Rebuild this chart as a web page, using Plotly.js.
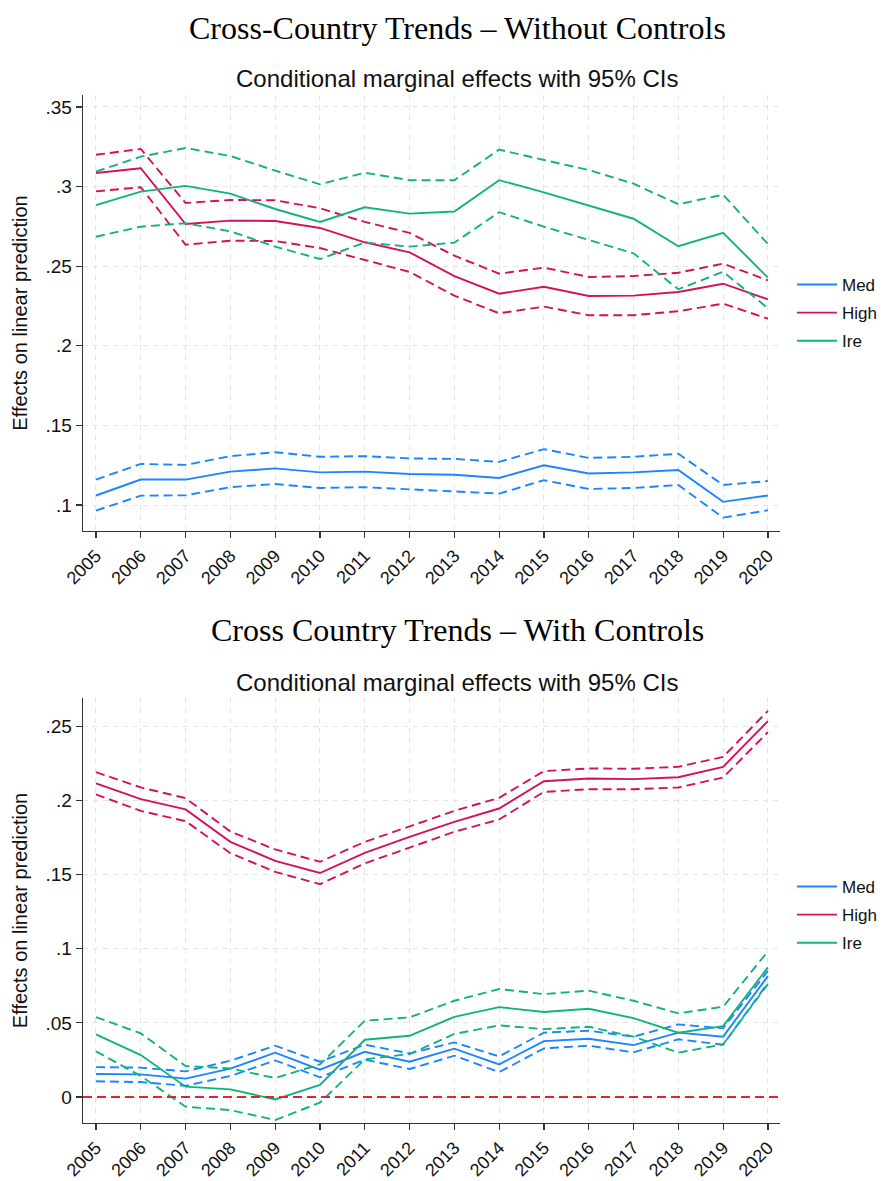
<!DOCTYPE html>
<html>
<head>
<meta charset="utf-8">
<script src="https://cdn.plot.ly/plotly-3.0.1.min.js"></script>
<style>
  html, body { margin: 0; padding: 0; background: #fff; }
  #chart { width: 893px; height: 1181px; }
</style>
</head>
<body>
<div id="chart"></div>
<script>
// Survey years on the horizontal axis
const years = [2005, 2006, 2007, 2008, 2009, 2010, 2011, 2012, 2013, 2014, 2015, 2016, 2017, 2018, 2019, 2020];

// Panel 1: without controls (point estimate, upper and lower 95% bounds)
const medTop   = [0.106, 0.116, 0.116, 0.121, 0.123, 0.1205, 0.121, 0.1195, 0.119, 0.117, 0.125, 0.1198, 0.1205, 0.122, 0.102, 0.106];
const medTopHi = [0.116, 0.1258, 0.1252, 0.1307, 0.1332, 0.1303, 0.1307, 0.1293, 0.129, 0.1271, 0.1351, 0.1296, 0.1303, 0.1322, 0.1126, 0.1151];
const medTopLo = [0.0965, 0.1059, 0.1061, 0.1112, 0.1132, 0.1107, 0.1112, 0.1099, 0.1086, 0.1072, 0.1156, 0.1101, 0.1107, 0.1126, 0.0921, 0.0967];

const highTop   = [0.3085, 0.3115, 0.2765, 0.2786, 0.2784, 0.274, 0.265, 0.2587, 0.2438, 0.2327, 0.2371, 0.2313, 0.2315, 0.2338, 0.239, 0.2292];
const highTopHi = [0.32, 0.3236, 0.2897, 0.2916, 0.2914, 0.2864, 0.2778, 0.2709, 0.2566, 0.2453, 0.2491, 0.2432, 0.2438, 0.2459, 0.2516, 0.2411];
const highTopLo = [0.297, 0.2996, 0.2635, 0.266, 0.2658, 0.2614, 0.2539, 0.2464, 0.2315, 0.2204, 0.2246, 0.2192, 0.2192, 0.2217, 0.2265, 0.217];

const ireTop   = [0.2884, 0.2968, 0.3004, 0.2956, 0.2859, 0.2778, 0.287, 0.283, 0.2843, 0.304, 0.2964, 0.2882, 0.2798, 0.2625, 0.271, 0.2428];
const ireTopHi = [0.3094, 0.3188, 0.3242, 0.3192, 0.31, 0.3014, 0.3087, 0.304, 0.304, 0.3232, 0.3167, 0.3104, 0.3018, 0.2889, 0.2949, 0.2639];
const ireTopLo = [0.2685, 0.2748, 0.277, 0.2719, 0.2623, 0.2545, 0.2648, 0.2623, 0.2648, 0.2839, 0.2748, 0.2665, 0.2581, 0.2355, 0.2465, 0.2236];

// Panel 2: with controls
const medBot   = [0.0155, 0.0153, 0.0124, 0.0191, 0.0299, 0.0184, 0.0305, 0.0238, 0.0326, 0.022, 0.0377, 0.0393, 0.035, 0.0434, 0.0407, 0.0815];
const medBotHi = [0.0202, 0.0198, 0.0173, 0.0245, 0.0346, 0.0238, 0.0353, 0.0294, 0.0368, 0.0274, 0.0434, 0.0447, 0.0407, 0.049, 0.0463, 0.085];
const medBotLo = [0.0106, 0.0101, 0.0076, 0.0142, 0.0247, 0.0133, 0.0252, 0.0189, 0.0279, 0.0168, 0.0328, 0.0346, 0.0301, 0.0389, 0.0353, 0.077];

const highBot   = [0.2114, 0.2008, 0.1939, 0.172, 0.1592, 0.151, 0.1646, 0.1754, 0.1855, 0.1945, 0.2129, 0.2147, 0.2143, 0.2156, 0.2226, 0.2534];
const highBotHi = [0.219, 0.2087, 0.2015, 0.179, 0.1669, 0.1586, 0.172, 0.1822, 0.1929, 0.2017, 0.2197, 0.2215, 0.2213, 0.2226, 0.2293, 0.2603];
const highBotLo = [0.204, 0.1929, 0.186, 0.1644, 0.1518, 0.1435, 0.1575, 0.1682, 0.1788, 0.1871, 0.2057, 0.2075, 0.2075, 0.2087, 0.2154, 0.246];

const ireBot   = [0.0422, 0.0283, 0.007, 0.0052, -0.0016, 0.0081, 0.0386, 0.0413, 0.0541, 0.0606, 0.0573, 0.0595, 0.0532, 0.0434, 0.0478, 0.0874];
const ireBotHi = [0.0539, 0.0429, 0.0209, 0.0193, 0.0128, 0.022, 0.0514, 0.0537, 0.0649, 0.0728, 0.0694, 0.0717, 0.0649, 0.0564, 0.0609, 0.0982];
const ireBotLo = [0.0308, 0.0142, -0.0065, -0.0088, -0.0155, -0.0038, 0.0254, 0.029, 0.0425, 0.0483, 0.0458, 0.0474, 0.0407, 0.0299, 0.0355, 0.0761];

// Tick labels
const yTopVals = [0.1, 0.15, 0.2, 0.25, 0.3, 0.35];
const yTopText = ['.1', '.15', '.2', '.25', '.3', '.35'];
const yBotVals = [0, 0.05, 0.1, 0.15, 0.2, 0.25];
const yBotText = ['0', '.05', '.1', '.15', '.2', '.25'];

const groupNames = ['Med', 'High', 'Ire'];
const groupColors = ['#1a85ff', '#d41159', '#12b27f'];

const CI_DASH = '9px,5px';
const FONT = 'Arial, "Liberation Sans", sans-serif';
const SERIF = '"Liberation Serif", "Times New Roman", serif';

function groupTraces(est, hi, lo, idx, xa, ya, legendName) {
  const c = groupColors[idx];
  const base = { x: years, mode: 'lines', xaxis: xa, yaxis: ya, hoverinfo: 'skip' };
  return [
    Object.assign({}, base, { y: hi, line: { color: c, width: 1.9, dash: CI_DASH }, showlegend: false }),
    Object.assign({}, base, { y: lo, line: { color: c, width: 1.9, dash: CI_DASH }, showlegend: false }),
    Object.assign({}, base, { y: est, name: groupNames[idx], line: { color: c, width: 1.9 },
      legend: legendName, legendgroup: legendName + groupNames[idx] })
  ];
}

const data = [].concat(
  groupTraces(medTop, medTopHi, medTopLo, 0, 'x', 'y', 'legend'),
  groupTraces(highTop, highTopHi, highTopLo, 1, 'x', 'y', 'legend'),
  groupTraces(ireTop, ireTopHi, ireTopLo, 2, 'x', 'y', 'legend'),
  groupTraces(medBot, medBotHi, medBotLo, 0, 'x2', 'y2', 'legend2'),
  groupTraces(highBot, highBotHi, highBotLo, 1, 'x2', 'y2', 'legend2'),
  groupTraces(ireBot, ireBotHi, ireBotLo, 2, 'x2', 'y2', 'legend2')
);

const W = 893, H = 1181;
const py = p => 1 - p / H;   // pixel row -> paper y
const px = p => p / W;       // pixel column -> paper x

function xAxis(anchor) {
  return {
    domain: [px(83), px(780)], anchor: anchor,
    range: [2004.71, 2020.27], tickvals: years, ticktext: years.map(String),
    tickangle: -45, ticks: 'outside', ticklen: 6, tickcolor: '#333', tickwidth: 1.2,
    showline: true, linecolor: '#333', linewidth: 1.3, mirror: false,
    showgrid: true, gridcolor: '#e4e4e4', griddash: '5px,5px', gridwidth: 1,
    zeroline: false, tickfont: { family: FONT, size: 18, color: '#111' }, fixedrange: true
  };
}
function yAxis(anchor, dom, range, vals, text) {
  return {
    domain: dom, anchor: anchor, range: range, tickvals: vals, ticktext: text,
    ticks: 'outside', ticklen: 6, tickcolor: '#333', tickwidth: 1.2,
    showline: true, linecolor: '#333', linewidth: 1.3,
    showgrid: true, gridcolor: '#e4e4e4', griddash: '5px,5px', gridwidth: 1,
    zeroline: false, tickfont: { family: FONT, size: 19, color: '#111' },
    title: { text: 'Effects on linear prediction', font: { family: FONT, size: 20, color: '#111' }, standoff: 12 },
    fixedrange: true
  };
}

const legendBase = {
  x: px(792), xanchor: 'left', yanchor: 'middle',
  font: { family: FONT, size: 17, color: '#111' },
  bgcolor: 'rgba(0,0,0,0)', tracegroupgap: 3, itemwidth: 40
};

const layout = {
  width: W, height: H,
  margin: { l: 0, r: 0, t: 0, b: 0 },
  paper_bgcolor: '#fff', plot_bgcolor: '#fff',
  showlegend: true,
  xaxis: xAxis('y'),
  yaxis: yAxis('x', [py(531), py(95)], [0.0837, 0.3575], yTopVals, yTopText),
  xaxis2: xAxis('y2'),
  yaxis2: yAxis('x2', [py(1123), py(698)], [-0.0175, 0.269], yBotVals, yBotText),
  legend: Object.assign({}, legendBase, { y: py(313) }),
  legend2: Object.assign({}, legendBase, { y: py(915) }),
  shapes: [
    { type: 'line', xref: 'x2 domain', yref: 'y2', x0: 0, x1: 1, y0: 0, y1: 0,
      line: { color: '#e0262b', width: 1.9, dash: CI_DASH } }
  ],
  annotations: [
    { text: 'Cross-Country Trends – Without Controls', xref: 'paper', yref: 'paper',
      x: px(458), y: py(28), xanchor: 'center', yanchor: 'middle', showarrow: false,
      font: { family: SERIF, size: 32, color: '#000' } },
    { text: 'Conditional marginal effects with 95% CIs', xref: 'paper', yref: 'paper',
      x: px(457), y: py(78), xanchor: 'center', yanchor: 'middle', showarrow: false,
      font: { family: FONT, size: 24, color: '#111' } },
    { text: 'Cross Country Trends – With Controls', xref: 'paper', yref: 'paper',
      x: px(458), y: py(630), xanchor: 'center', yanchor: 'middle', showarrow: false,
      font: { family: SERIF, size: 32, color: '#000' } },
    { text: 'Conditional marginal effects with 95% CIs', xref: 'paper', yref: 'paper',
      x: px(457), y: py(682), xanchor: 'center', yanchor: 'middle', showarrow: false,
      font: { family: FONT, size: 24, color: '#111' } }
  ]
};

Plotly.newPlot('chart', data, layout, { displayModeBar: false, staticPlot: true });
</script>
</body>
</html>
